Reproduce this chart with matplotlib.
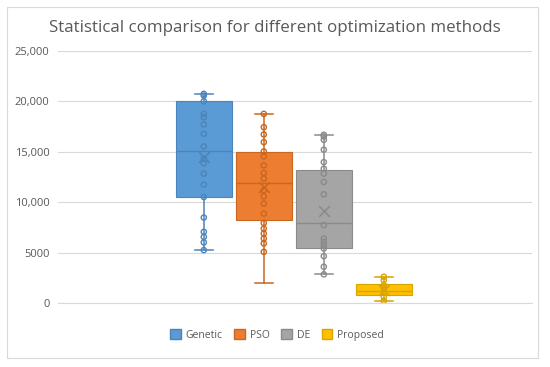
import matplotlib.pyplot as plt
from matplotlib.patches import Rectangle, Patch
from matplotlib.ticker import FuncFormatter

methods = ['Genetic', 'PSO', 'DE', 'Proposed']
fills = ['#5B9BD5', '#ED7D31', '#A5A5A5', '#FFC000']
edges = ['#4A84BA', '#C9661F', '#8A8A8A', '#D9A300']

# box statistics
q1 = [10500, 8250, 5450, 850]
med = [15050, 11950, 8000, 1200]
q3 = [20050, 14950, 13250, 1900]
whislo = [5270, 2040, 2870, 250]
whishi = [20750, 18770, 16700, 2630]
means = [14450, 11520, 9150, 1350]

# individual samples
genetic = [20750, 20580, 20020, 18770, 18440, 17720, 16800, 15540, 14330,
           13890, 12850, 11760, 10530, 8500, 7080, 6580, 6030, 5270]
pso = [18770, 17450, 16730, 15970, 15050, 14550, 13670, 12910, 12350, 11200,
       10600, 9880, 8890, 7960, 7410, 6920, 6420, 5930, 5100]
de = [16700, 16530, 16200, 15220, 13990, 13340, 12850, 12020, 10800, 7740,
      6420, 6090, 5760, 5430, 4670, 3620, 2870]
proposed = [2630, 2300, 1810, 1480, 1150, 650, 250]
samples = [genetic, pso, de, proposed]

positions = [-1.5, -0.5, 0.5, 1.5]

fig = plt.figure(figsize=(5.5, 3.67), dpi=100)
plt.rcParams['font.family'] = ['Open Sans', 'DejaVu Sans']
ax = fig.add_axes([58 / 550, 1 - 303.3 / 367, 474 / 550, (303.3 - 51) / 367])

for i in range(4):
    st = [dict(q1=q1[i], med=med[i], q3=q3[i], whislo=whislo[i],
               whishi=whishi[i], mean=means[i], fliers=[])]
    ax.bxp(st, positions=[positions[i]], widths=0.93, capwidths=0.3,
           patch_artist=True, showmeans=False,
           boxprops=dict(facecolor=fills[i], edgecolor=edges[i], linewidth=0.8),
           medianprops=dict(color=edges[i], linewidth=1),
           whiskerprops=dict(color=edges[i], linewidth=1.1),
           capprops=dict(color=edges[i], linewidth=1.1))
    ax.scatter([positions[i]] * len(samples[i]), samples[i], s=14,
               facecolors='none', edgecolors=edges[i], linewidths=1, zorder=3)
    ax.scatter([positions[i]], [means[i]], marker='x', s=60,
               color=edges[i], linewidths=1.1, zorder=4)

ax.set_xlim(-3.93, 3.97)
ax.set_ylim(0, 25000)
ax.set_yticks(range(0, 25001, 5000))
ax.yaxis.set_major_formatter(FuncFormatter(
    lambda v, p: f'{int(v):,}' if v >= 10000 else f'{int(v)}'))
ax.set_xticks([])
ax.grid(axis='y', color='#D9D9D9', linewidth=0.8)
ax.set_axisbelow(True)
for s in ['top', 'right', 'left']:
    ax.spines[s].set_visible(False)
ax.spines['bottom'].set_color('#D9D9D9')
ax.tick_params(axis='y', length=0, labelsize=8, labelcolor='#595959', pad=6)

fig.text(0.5, 1 - 28 / 367, 'Statistical comparison for different optimization methods',
         ha='center', va='center', fontsize=12.2, color='#595959')

handles = [Patch(facecolor=fills[i], edgecolor=edges[i], label=methods[i])
           for i in range(4)]
fig.legend(handles=handles, loc='center', bbox_to_anchor=(277 / 550, 1 - 335 / 367),
           ncol=4, frameon=False, fontsize=7.5, labelcolor='#595959',
           handlelength=1, handleheight=1, handletextpad=0.5, columnspacing=1.1)

fig.patches.append(Rectangle((7 / 550, 1 - 358 / 367), 531 / 550, 351 / 367,
                             transform=fig.transFigure, fill=False,
                             edgecolor='#D9D9D9', linewidth=0.8))

fig.savefig('out.png', dpi=100)
